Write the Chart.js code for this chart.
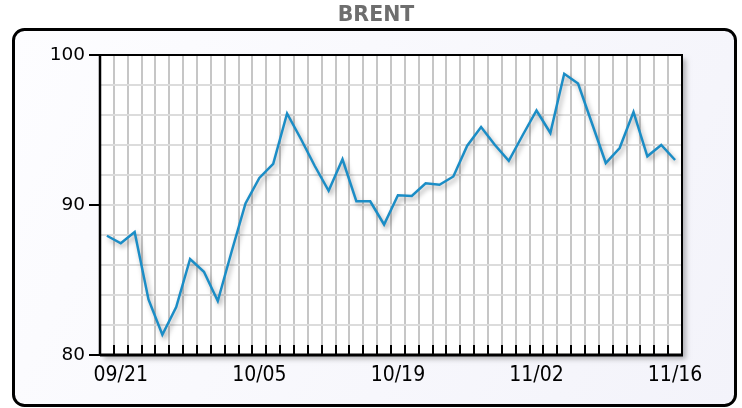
<!DOCTYPE html>
<html lang="en">
<head>
    <meta charset="UTF-8">
    <title>BRENT</title>
    <script src="https://cdn.jsdelivr.net/npm/chart.js"></script>
    <style>
        html, body { margin: 0; padding: 0; background: #fff; }
        canvas { display: block; }
    </style>
</head>
<body>
    <canvas id="brentChart" width="742" height="408"></canvas>

    <script>
        // trading days shown on the x axis
        const dates = [
            "09/18",
            "09/21", "09/22", "09/23", "09/24", "09/25",
            "09/28", "09/29", "09/30", "10/01", "10/02",
            "10/05", "10/06", "10/07", "10/08", "10/09",
            "10/12", "10/13", "10/14", "10/15", "10/16",
            "10/19", "10/20", "10/21", "10/22", "10/23",
            "10/26", "10/27", "10/28", "10/29", "10/30",
            "11/02", "11/03", "11/04", "11/05", "11/06",
            "11/09", "11/10", "11/11", "11/12", "11/13",
            "11/16"
        ];
        // only these dates get a label
        const shownDates = ["09/21", "10/05", "10/19", "11/02", "11/16"];

        const brent = [
            87.95, 87.45, 88.2, 83.7, 81.35, 83.2, 86.4, 85.55, 83.6, 86.9,
            90.1, 91.8, 92.75, 96.1, 94.4, 92.6, 90.95, 93.05, 90.25, 90.25,
            88.7, 90.65, 90.6, 91.45, 91.35, 91.9, 93.95, 95.2, 94.0, 92.95,
            94.65, 96.3, 94.8, 98.75, 98.1, 95.45, 92.8, 93.8, 96.2, 93.25,
            94.0, 93.0
        ];

        const yMin = 80, yMax = 100;
        const yLabelStep = 10;

        // frame, plot background, borders and inner ticks
        const framePlugin = {
            id: "frame",
            beforeDraw(chart) {
                const ctx = chart.ctx;
                const a = chart.chartArea;
                ctx.save();
                // outer rounded box
                const x = 13.5, y = 29.5, w = 722, h = 376, r = 11;
                ctx.beginPath();
                ctx.moveTo(x + r, y);
                ctx.arcTo(x + w, y, x + w, y + h, r);
                ctx.arcTo(x + w, y + h, x, y + h, r);
                ctx.arcTo(x, y + h, x, y, r);
                ctx.arcTo(x, y, x + w, y, r);
                ctx.closePath();
                const g = ctx.createLinearGradient(x, y, x + w, y + h);
                g.addColorStop(0, "#fdfdff");
                g.addColorStop(1, "#f3f3fa");
                ctx.fillStyle = g;
                ctx.fill();
                ctx.lineWidth = 3;
                ctx.strokeStyle = "#000";
                ctx.stroke();

                // plot area with drop shadow
                ctx.shadowColor = "rgba(0,0,0,0.28)";
                ctx.shadowBlur = 5;
                ctx.shadowOffsetX = 4;
                ctx.shadowOffsetY = 4;
                ctx.fillStyle = "#fff";
                ctx.fillRect(a.left, a.top, a.right - a.left, a.bottom - a.top);
                ctx.restore();
            },
            beforeDatasetsDraw(chart) {
                const ctx = chart.ctx;
                const a = chart.chartArea;
                const xs = chart.scales.x;
                ctx.save();
                ctx.strokeStyle = "#000";
                // small ticks pointing up from the x axis, at category edges
                const half = (xs.getPixelForTick(1) - xs.getPixelForTick(0)) / 2;
                ctx.lineWidth = 2;
                ctx.beginPath();
                for (let i = 0; i <= dates.length; i++) {
                    const px = Math.round((i < dates.length ? xs.getPixelForTick(i) - half : xs.getPixelForTick(i - 1) + half));
                    ctx.moveTo(px, a.bottom);
                    ctx.lineTo(px, a.bottom - 10);
                }
                ctx.stroke();
                // top / right border
                ctx.lineWidth = 2;
                ctx.beginPath();
                ctx.moveTo(a.left, a.top);
                ctx.lineTo(a.right, a.top);
                ctx.lineTo(a.right, a.bottom);
                ctx.stroke();
                // left axis
                ctx.lineWidth = 2.5;
                ctx.beginPath();
                ctx.moveTo(a.left, a.top - 1);
                ctx.lineTo(a.left, a.bottom);
                ctx.stroke();
                // bottom axis
                ctx.lineWidth = 3;
                ctx.beginPath();
                ctx.moveTo(a.left, a.bottom);
                ctx.lineTo(a.right + 1, a.bottom);
                ctx.stroke();
                ctx.restore();
            },
            beforeDatasetDraw(chart) {
                const ctx = chart.ctx;
                ctx.save();
                ctx.shadowColor = "rgba(0,0,0,0.35)";
                ctx.shadowBlur = 5;
                ctx.shadowOffsetX = 2;
                ctx.shadowOffsetY = 3;
            },
            afterDatasetDraw(chart) {
                chart.ctx.restore();
            }
        };

        const chart = new Chart(document.getElementById("brentChart"), {
            type: "line",
            data: {
                labels: dates,
                datasets: [{
                    label: "BRENT",
                    data: brent,
                    borderColor: "#1b8dc6",
                    borderWidth: 2.5,
                    pointRadius: 0,
                    tension: 0,
                    fill: false
                }]
            },
            options: {
                responsive: false,
                animation: false,
                devicePixelRatio: 1,
                layout: { padding: { left: 10, right: 0, top: 0, bottom: 0 } },
                plugins: {
                    legend: { display: false },
                    tooltip: { enabled: false },
                    title: {
                        display: true,
                        text: "BRENT",
                        color: "#6e6e6e",
                        font: { family: "'DejaVu Sans'", size: 20.5, weight: "bold" },
                        padding: { top: 3, bottom: 27.4 }
                    }
                },
                scales: {
                    x: {
                        type: "category",
                        offset: true,
                        grid: {
                            offset: true,
                            color: "#c6c6c6",
                            lineWidth: 2,
                            drawTicks: false
                        },
                        border: { display: false },
                        ticks: {
                            autoSkip: false,
                            maxRotation: 0,
                            padding: 8,
                            color: "#000",
                            font: { family: "'DejaVu Sans Condensed', 'DejaVu Sans'", size: 21 },
                            callback: function(v, i) {
                                return shownDates.includes(dates[i]) ? dates[i] : "";
                            }
                        },
                        afterFit: s => { s.height = 53; }
                    },
                    y: {
                        min: yMin,
                        max: yMax,
                        grid: {
                            color: "#dcdcdc",
                            lineWidth: 2,
                            tickLength: 11,
                            tickWidth: 2,
                            tickColor: c => (c.tick && c.tick.value % yLabelStep === 0) ? "#000" : "rgba(0,0,0,0)"
                        },
                        border: { display: false },
                        ticks: {
                            stepSize: 2,
                            padding: 4,
                            color: "#000",
                            font: { family: "'DejaVu Sans'", size: 18.5 },
                            callback: v => (v % yLabelStep === 0 ? v : "")
                        },
                        afterFit: s => { s.width = 90; }
                    },
                    yRight: {
                        type: "linear",
                        position: "right",
                        grid: { display: false },
                        border: { display: false },
                        ticks: { display: false },
                        afterFit: s => { s.width = 60; }
                    }
                }
            },
            plugins: [framePlugin]
        });
    </script>
</body>
</html>
